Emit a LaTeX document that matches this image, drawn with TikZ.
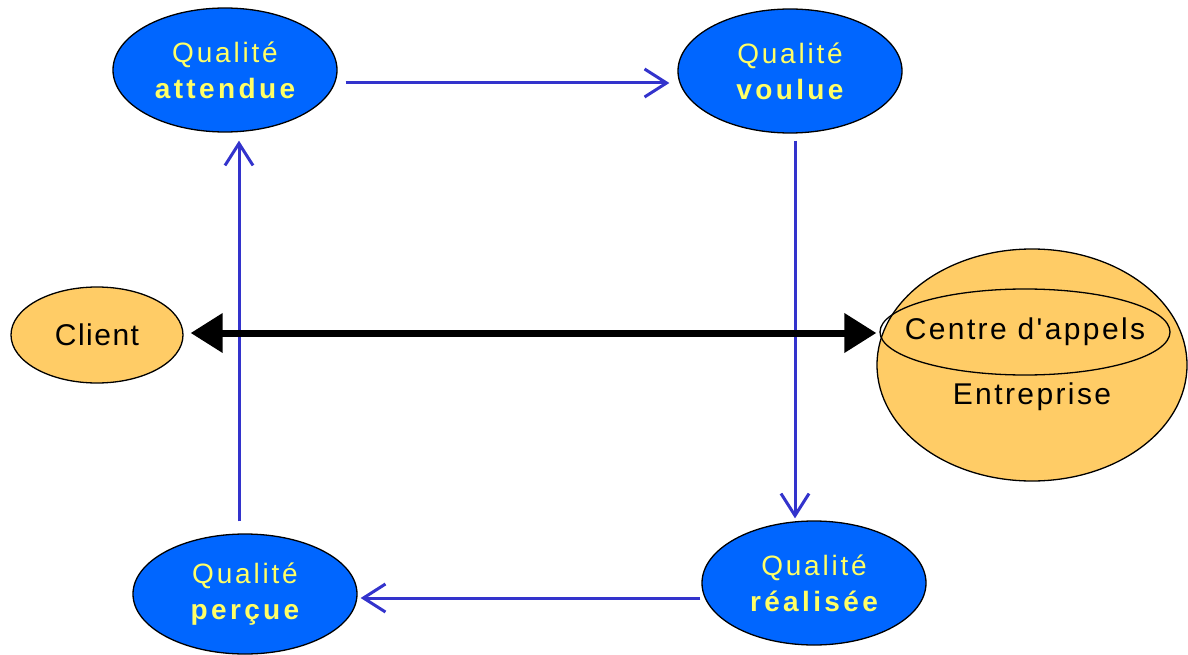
\documentclass[tikz,border=0pt]{standalone}
\usepackage{fontspec}
\setmainfont{Liberation Sans}
\newfontfamily\qfont[LetterSpace=10]{Liberation Sans}
\newfontfamily\bfont[LetterSpace=12]{Liberation Sans Bold}
\newfontfamily\nfont[LetterSpace=5]{Liberation Sans}
\newfontfamily\wfont[LetterSpace=8]{Liberation Sans}
\usetikzlibrary{shapes.geometric,arrows.meta,calc}
\definecolor{qblue}{HTML}{0066FF}
\definecolor{qyellow}{HTML}{FFFF66}
\definecolor{arrblue}{HTML}{3333CC}
\definecolor{qorange}{HTML}{FFCC66}
\tikzset{
  qual/.style={ellipse, draw=black, line width=1.3pt, fill=qblue, inner sep=0pt,
    minimum width=224pt, minimum height=124pt, text=qyellow, align=center,
    font=\fontsize{28}{38}\selectfont},
  orangeshape/.style={ellipse, draw=black, line width=1.3pt, fill=qorange, inner sep=0pt},
  lbl/.style={font=\fontsize{30}{36}\selectfont\wfont, inner sep=0pt},
  flow/.style={draw=arrblue, line width=3pt, -{Straight Barb[length=22pt,width=28pt,line width=3pt]}},
  bigarrow/.style={draw=black, line width=7pt, {Triangle[length=32pt,width=38pt]}-{Triangle[length=32pt,width=38pt]}},
}
\begin{document}
\begin{tikzpicture}[x=1pt,y=-1pt]
\useasboundingbox (0,0) rectangle (1188,655);
% quality ellipses
\node[qual] (att) at (225,70) {{\qfont Qualit\'e}\\[-2pt]{\bfont attendue}};
\node[qual] (voul) at (790,71) {{\qfont Qualit\'e}\\[-2pt]{\bfont voulue}};
\node[qual] (real) at (814,583) {{\qfont Qualit\'e}\\[-2pt]{\bfont r\'ealis\'ee}};
\node[qual, minimum height=120pt] (perc) at (245,594) {{\qfont Qualit\'e}\\[-2pt]{\bfont per\c{c}ue}};
% client
\node[orangeshape, minimum width=172pt, minimum height=96pt, font=\fontsize{30}{36}\selectfont\nfont] (client) at (97,335) {Client};
% entreprise
\node[orangeshape, minimum width=310pt, minimum height=232pt] (ent) at (1032,365) {};
\node[lbl] (cda) at (1025,332) {Centre d'appels};
\draw[line width=1.3pt] (cda) ellipse [x radius=145pt, y radius=43pt];
\node[lbl] (entlbl) at (1032,397) {Entreprise};
% flows
\draw[flow] ($(att.east)+(8,13)$) -- ($(voul.west)+(-8,12)$);
\draw[flow] ($(voul.south)+(5,7)$) -- ($(real.north)+(-19,-2)$);
\draw[flow] ($(real.west)+(-1,15)$) -- ($(perc.east)+(3,4)$);
\draw[flow] ($(perc.north)+(-6,-12)$) -- ($(att.south)+(14,8)$);
% client <-> entreprise
\draw[bigarrow] ($(client.east)+(7,-2)$) -- ($(ent.west)+(0,-32)$);
\end{tikzpicture}
\end{document}
